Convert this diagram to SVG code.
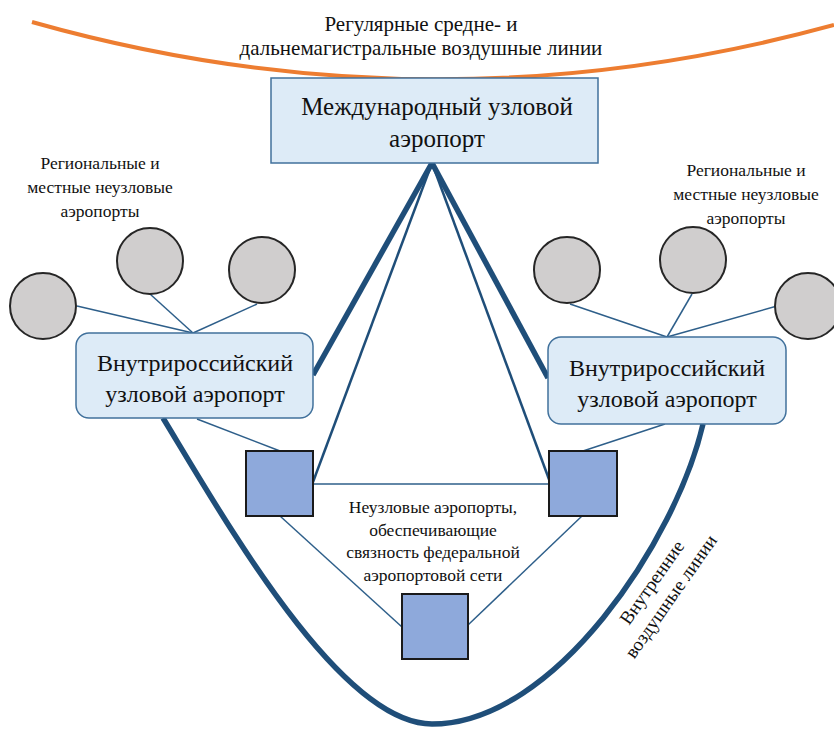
<svg xmlns="http://www.w3.org/2000/svg" width="834" height="729" viewBox="0 0 834 729">
<style>
text{font-family:"Liberation Serif","DejaVu Serif",serif;fill:#111;text-anchor:middle}
.t-box{font-size:25px}
.t-hub{font-size:24px}
.t-mid{font-size:21px}
.t-sm{font-size:17.5px}
.t-rot{font-size:19px}
.circ{fill:#D0CECE;stroke:#262626;stroke-width:2}
.sq{fill:#8EA9DB;stroke:#1a1a1a;stroke-width:2}
.hub{fill:#DDEBF7;stroke:#41719C;stroke-width:1.5}
.thin{stroke:#2E5F8A;stroke-width:1.5;fill:none}
.mid{stroke:#1F4E79;stroke-width:2.5;fill:none}
.thick{stroke:#1F4E79;stroke-width:5.5;fill:none}
</style>
<rect width="834" height="729" fill="#fff"/>
<g id="connectors">
<path id="orange-curve" d="M32,22 Q432,135 834,25" fill="none" stroke="#ED7D31" stroke-width="4"/>
<path id="domestic-curve" class="thick" d="M163,418 C225,520 340,724 432,724 C555,724 676,540 703,424"/>
<line class="thick" x1="432" y1="163" x2="313" y2="375"/>
<line class="mid" x1="432" y1="163" x2="313" y2="482"/>
<line class="thick" x1="432" y1="163" x2="548" y2="378"/>
<line class="mid" x1="432" y1="163" x2="550" y2="482"/>
<line class="thin" x1="313" y1="484" x2="550" y2="484"/>
<line class="thin" x1="280" y1="516" x2="402" y2="627"/>
<line class="thin" x1="582" y1="516" x2="468" y2="625"/>
<line class="thin" x1="197" y1="419" x2="280" y2="451"/>
<line class="thin" x1="665" y1="424" x2="583" y2="451"/>
<line class="thin" x1="77" y1="306" x2="193" y2="333"/>
<line class="thin" x1="150" y1="294" x2="193" y2="333"/>
<line class="thin" x1="257" y1="304" x2="193" y2="333"/>
<line class="thin" x1="570" y1="304" x2="667" y2="337"/>
<line class="thin" x1="692" y1="294" x2="667" y2="337"/>
<line class="thin" x1="777" y1="306" x2="667" y2="337"/>
</g>
<g id="label-longhaul">
<text class="t-mid" x="421" y="31">Регулярные средне- и</text>
<text class="t-mid" x="421" y="55">дальнемагистральные воздушные линии</text>
</g>
<g id="intl-hub">
<rect x="271" y="78" width="327" height="85" fill="#DDEBF7" stroke="#41719C" stroke-width="1.5"/>
<text class="t-box" x="437" y="115">Международный узловой</text>
<text class="t-box" x="437" y="147">аэропорт</text>
</g>
<g id="label-regional-left">
<text class="t-sm" x="100" y="169">Региональные и</text>
<text class="t-sm" x="100" y="193">местные неузловые</text>
<text class="t-sm" x="100" y="217">аэропорты</text>
</g>
<g id="label-regional-right">
<text class="t-sm" x="746" y="176">Региональные и</text>
<text class="t-sm" x="746" y="200">местные неузловые</text>
<text class="t-sm" x="746" y="224">аэропорты</text>
</g>
<g id="regional-left">
<circle class="circ" cx="43" cy="306" r="33"/>
<circle class="circ" cx="150" cy="261" r="33"/>
<circle class="circ" cx="262" cy="270" r="33"/>
</g>
<g id="regional-right">
<circle class="circ" cx="567" cy="270" r="33"/>
<circle class="circ" cx="693" cy="260" r="33"/>
<circle class="circ" cx="808" cy="306" r="33"/>
</g>
<g id="hub-left">
<rect class="hub" x="76" y="333" width="237" height="85" rx="13"/>
<text class="t-hub" x="195" y="371">Внутрироссийский</text>
<text class="t-hub" x="195" y="402">узловой аэропорт</text>
</g>
<g id="hub-right">
<rect class="hub" x="548" y="337" width="238" height="87" rx="13"/>
<text class="t-hub" x="667" y="376">Внутрироссийский</text>
<text class="t-hub" x="667" y="407">узловой аэропорт</text>
</g>
<g id="square-left"><rect class="sq" x="246" y="451" width="67" height="65"/></g>
<g id="square-right"><rect class="sq" x="549" y="451" width="68" height="65"/></g>
<g id="square-bottom"><rect class="sq" x="402" y="594" width="66" height="65"/></g>
<g id="label-nonhub">
<text class="t-sm" x="433" y="513">Неузловые аэропорты,</text>
<text class="t-sm" x="433" y="536">обеспечивающие</text>
<text class="t-sm" x="433" y="558">связность федеральной</text>
<text class="t-sm" x="433" y="581">аэропортовой сети</text>
</g>
<g id="label-domestic">
<text class="t-rot" transform="translate(657,586) rotate(-55)">Внутренние</text>
<text class="t-rot" transform="translate(676,600) rotate(-55)">воздушные линии</text>
</g>
</svg>
